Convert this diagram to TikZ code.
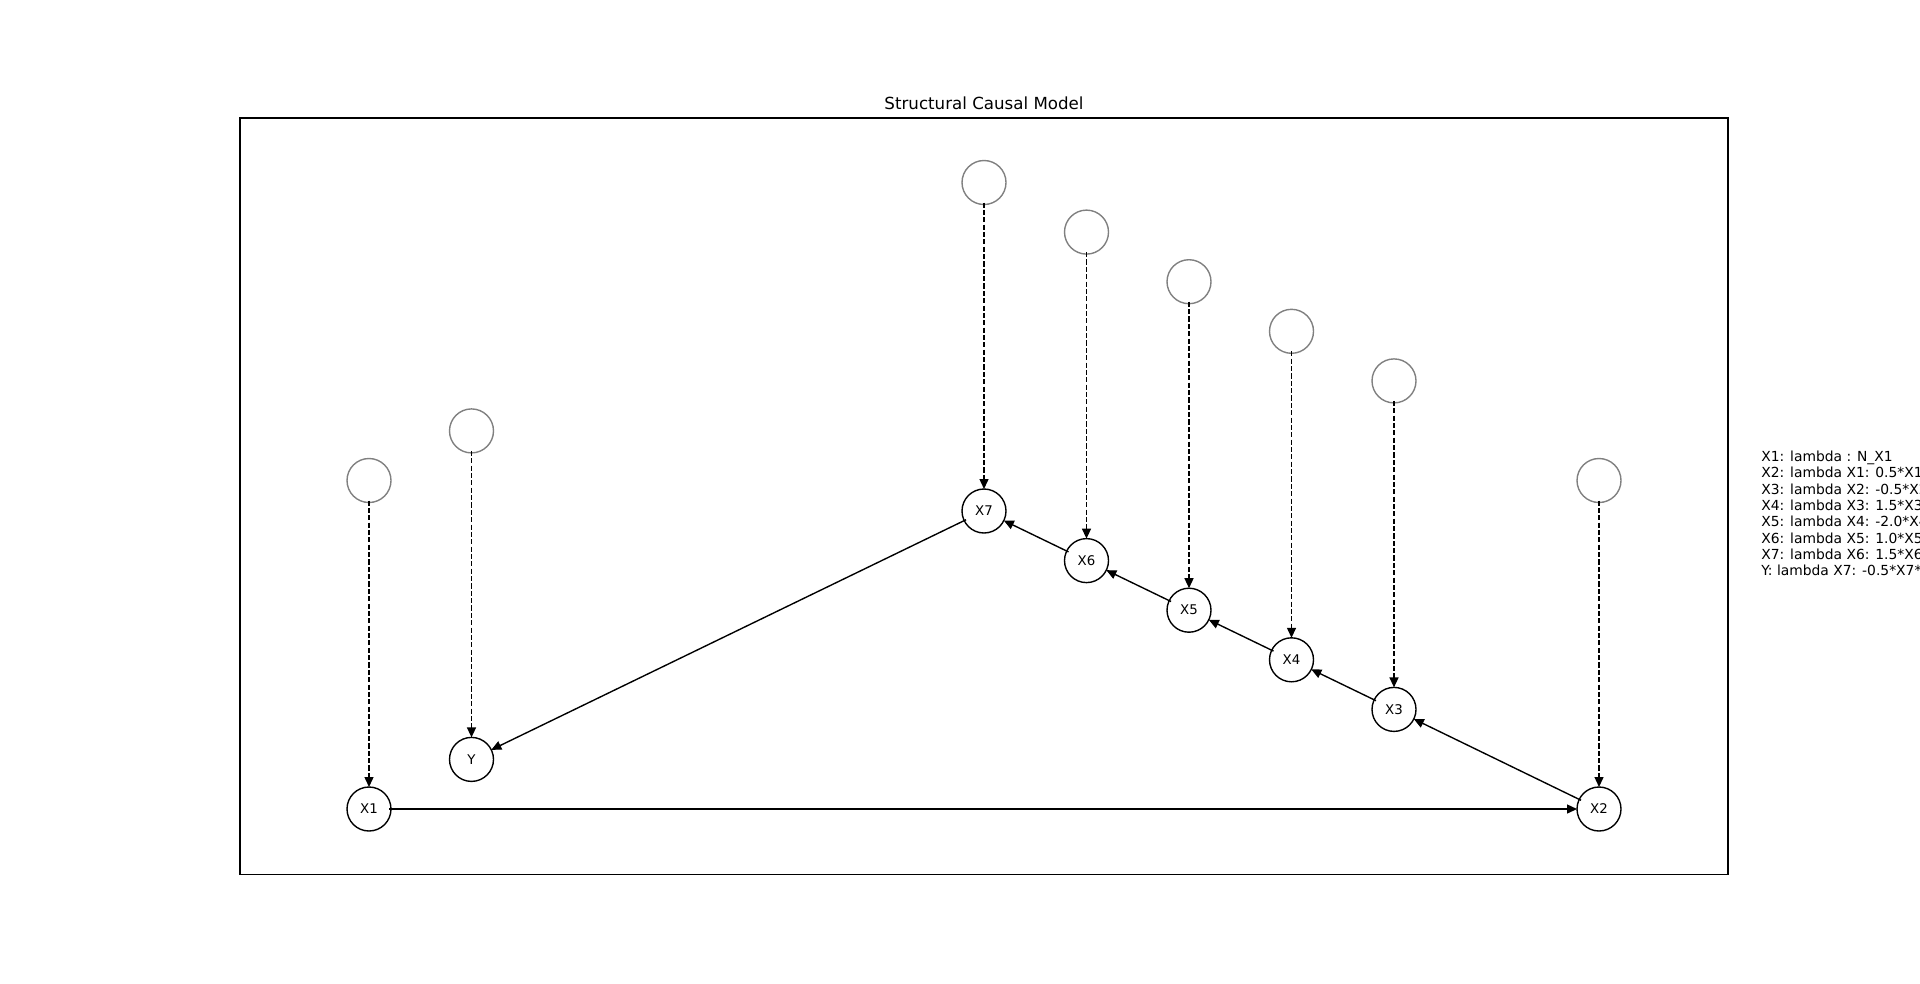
\documentclass[tikz,border=0pt]{standalone}
\usepackage{fontspec}
\setmainfont{DejaVu Sans}
\usetikzlibrary{arrows.meta}
\begin{document}
\begin{tikzpicture}[x=0.75pt,y=-0.75pt,
  var/.style={circle,draw=black,fill=white,line width=1.04pt,minimum size=33pt,
    inner sep=0pt,outer sep=0pt,font=\fontsize{10}{12}\selectfont},
  noise/.style={circle,draw=gray,fill=white,line width=1.04pt,minimum size=33pt,
    inner sep=0pt,outer sep=0pt},
  causal/.style={line width=1.04pt,-{Triangle[length=7.5pt,width=6.75pt]},shorten <=15pt},
  exo/.style={causal,dash pattern=on 3.85pt off 1.67pt},
  legendline/.style={anchor=base west,inner sep=0pt,font=\fontsize{10.4}{12.5}\selectfont},
]
\fill[white] (0,0) rectangle (1920,983);
\useasboundingbox (0,0) rectangle (1920,983);

% axes frame and title
\draw[line width=0.83pt] (240,117.96) rectangle (1728,874.87);
\node[anchor=base,inner sep=0pt,font=\fontsize{12.5}{15}\selectfont] (title) at (984,109.6) {Structural Causal Model};

% endogenous variables
\node[var] (X1) at (369,809) {X1};
\node[var] (Y)  at (471.5,759.4) {Y};
\node[var] (X7) at (984,511) {X7};
\node[var] (X6) at (1086.5,560.6) {X6};
\node[var] (X5) at (1189,610.2) {X5};
\node[var] (X4) at (1291.5,659.8) {X4};
\node[var] (X3) at (1394,709.4) {X3};
\node[var] (X2) at (1599,809) {X2};

% exogenous noise terms
\node[noise] (nX1) at (369,480.5) {};
\node[noise] (nY)  at (471.5,430.9) {};
\node[noise] (nX7) at (984,182.5) {};
\node[noise] (nX6) at (1086.5,232.1) {};
\node[noise] (nX5) at (1189,281.7) {};
\node[noise] (nX4) at (1291.5,331.3) {};
\node[noise] (nX3) at (1394,380.9) {};
\node[noise] (nX2) at (1599,480.5) {};

% noise edges
\foreach \v in {X1,Y,X7,X6,X5,X4,X3,X2}
  \draw[exo] (n\v.center) -- (\v);

% causal edges
\draw[causal] (X1.center) -- (X2);
\draw[causal] (X2.center) -- (X3);
\draw[causal] (X3.center) -- (X4);
\draw[causal] (X4.center) -- (X5);
\draw[causal] (X5.center) -- (X6);
\draw[causal] (X6.center) -- (X7);
\draw[causal] (X7.center) -- (Y);

% structural equations
\node[legendline] (eq1) at (1761,461.7) {X1: lambda : N\_X1};
\node[legendline] (eq2) at (1761,477.97) {X2: lambda X1: 0.5*X1};
\node[legendline] (eq3) at (1761,494.24) {X3: lambda X2: -0.5*X2};
\node[legendline] (eq4) at (1761,510.51) {X4: lambda X3: 1.5*X3};
\node[legendline] (eq5) at (1761,526.78) {X5: lambda X4: -2.0*X4};
\node[legendline] (eq6) at (1761,543.05) {X6: lambda X5: 1.0*X5};
\node[legendline] (eq7) at (1761,559.32) {X7: lambda X6: 1.5*X6};
\node[legendline] (eq8) at (1761,575.59) {Y: lambda X7: -0.5*X7*};
\end{tikzpicture}
\end{document}
